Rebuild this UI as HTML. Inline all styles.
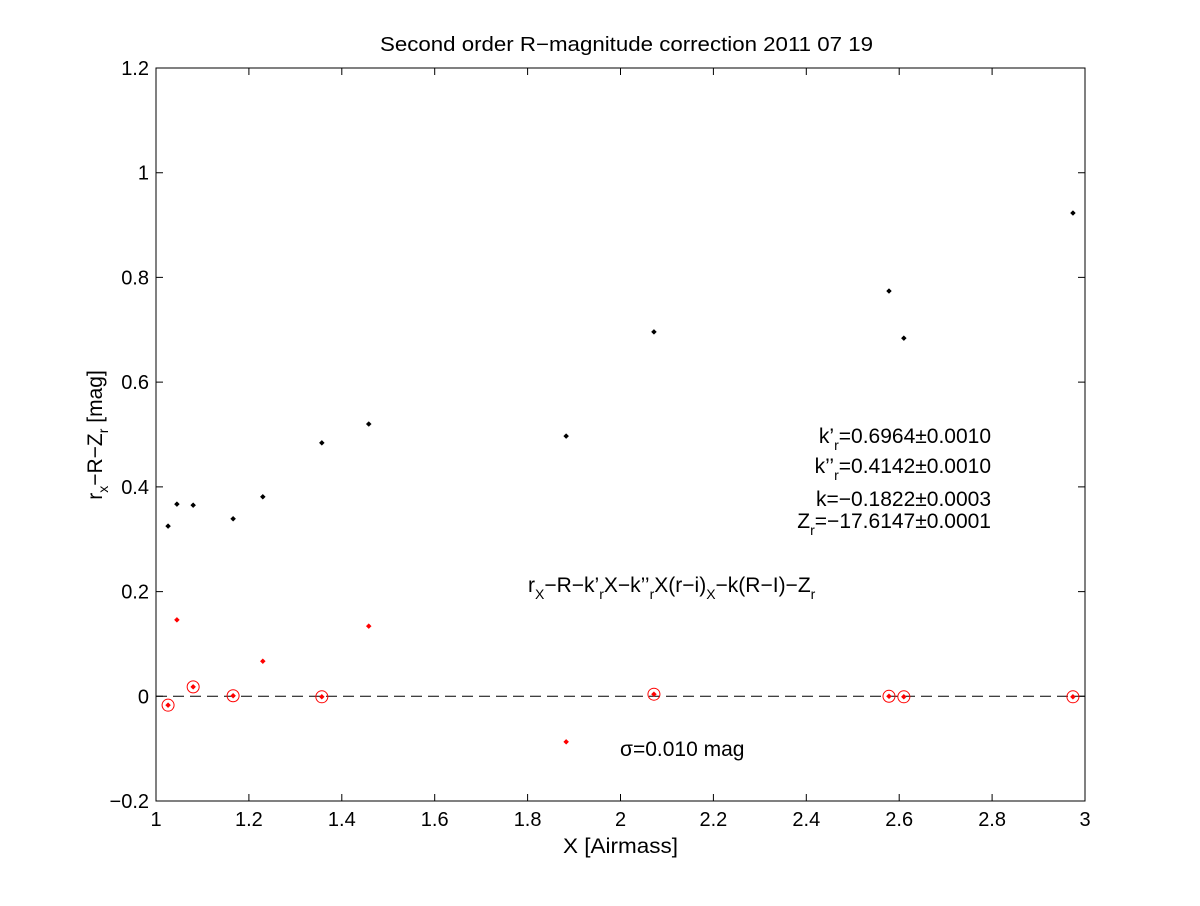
<!DOCTYPE html>
<html><head><meta charset="utf-8"><style>
body{margin:0;background:#fff;}
svg text{font-family:"Liberation Sans",sans-serif;fill:#000;}
</style></head><body>
<svg id="chart" width="1200" height="901" xmlns="http://www.w3.org/2000/svg">
<rect x="0" y="0" width="1200" height="901" fill="#fff"/>
<text x="380" y="51" font-size="20" textLength="493" lengthAdjust="spacingAndGlyphs">Second order R−magnitude correction 2011 07 19</text>
<g id="axes"></g>
<g id="marks"></g>
<text x="563" y="853" font-size="21" textLength="115" lengthAdjust="spacingAndGlyphs">X [Airmass]</text>
<text transform="translate(102,435) rotate(-90)" font-size="21" text-anchor="middle">r<tspan font-size="14" dy="6">x</tspan><tspan dy="-6">−R−Z</tspan><tspan font-size="14" dy="6">r</tspan><tspan dy="-6"> [mag]</tspan></text>
<g font-size="21">
<text x="991" y="443" text-anchor="end">k’<tspan font-size="14" dy="7">r</tspan><tspan dy="-7">=0.6964±0.0010</tspan></text>
<text x="991" y="473" text-anchor="end">k’’<tspan font-size="14" dy="7">r</tspan><tspan dy="-7">=0.4142±0.0010</tspan></text>
<text x="991" y="506" text-anchor="end">k=−0.1822±0.0003</text>
<text x="991" y="528" text-anchor="end">Z<tspan font-size="14" dy="7">r</tspan><tspan dy="-7">=−17.6147±0.0001</tspan></text>
<text x="528" y="592">r<tspan font-size="14" dy="7">X</tspan><tspan dy="-7">−R−k’</tspan><tspan font-size="14" dy="7">r</tspan><tspan dy="-7">X−k’’</tspan><tspan font-size="14" dy="7">r</tspan><tspan dy="-7">X(r−i)</tspan><tspan font-size="14" dy="7">X</tspan><tspan dy="-7">−k(R−I)−Z</tspan><tspan font-size="14" dy="7">r</tspan></text>
<text x="620" y="756">σ=0.010 mag</text>
</g>
<script>
const xTicks=[1,1.2,1.4,1.6,1.8,2,2.2,2.4,2.6,2.8,3];
const yTicks=[-0.2,0,0.2,0.4,0.6,0.8,1,1.2];
const airmass=[1.026,1.045,1.080,1.166,1.230,1.357,1.458,1.883,2.072,2.578,2.610,2.974];
const rawResid=[0.325,0.367,0.365,0.339,0.381,0.484,0.520,0.497,0.696,0.774,0.684,0.923];
const corrResid=[-0.017,0.146,0.018,0.001,0.067,-0.001,0.134,-0.087,0.004,0.000,-0.001,-0.001];
const circled=[true,false,true,true,false,true,false,false,true,true,true,true];
const L=156,R=1085,T=68,B=801;
const xs=v=>L+(v-1)/2*(R-L);
const ys=v=>B-(v+0.2)/1.4*(B-T);
const NS="http://www.w3.org/2000/svg";
function mk(tag,attrs,parent){const e=document.createElementNS(NS,tag);for(const k in attrs)e.setAttribute(k,attrs[k]);parent.appendChild(e);return e;}
const ax=document.getElementById('axes');
const mg=document.getElementById('marks');
const box=mk('rect',{x:L,y:T,width:R-L,height:B-T,fill:'none',stroke:'#000','stroke-width':1},ax);


xTicks.forEach(t=>{const x=xs(t);
 const a=mk('path',{d:`M${x},${B}v-7M${x},${T}v7`,stroke:'#000'},ax);
 
 
 const tx=mk('text',{x:x,y:B+25,'font-size':20,'text-anchor':'middle'},ax);tx.textContent=String(t);
 
 });
yTicks.forEach(t=>{const y=ys(t);
 const a=mk('path',{d:`M${L},${y}h7M${R},${y}h-7`,stroke:'#000'},ax);
 
 
 const tx=mk('text',{x:L-7,y:y+7,'font-size':20,'text-anchor':'end'},ax);tx.textContent=(t<0?'−':'')+String(Math.abs(t));
 
 });
const zl=mk('line',{x1:L,x2:R,y1:ys(0),y2:ys(0),stroke:'#000','stroke-dasharray':'11,6'},mg);


function dot(x,y,c){return mk('path',{d:`M${x-2.5},${y}L${x},${y-2.5}L${x+2.5},${y}L${x},${y+2.5}Z`,fill:c,stroke:c,'stroke-width':0.5},mg);}
airmass.forEach((a,i)=>{
 const p=dot(xs(a),ys(rawResid[i]),'#000');
 
 
 const q=dot(xs(a),ys(corrResid[i]),'#f00');
 
 
 if(circled[i]){const c=mk('circle',{cx:xs(a),cy:ys(corrResid[i]),r:6,fill:'none',stroke:'#f00','stroke-width':1},mg);
  
  }
});
</script>
</svg>
</body></html>
